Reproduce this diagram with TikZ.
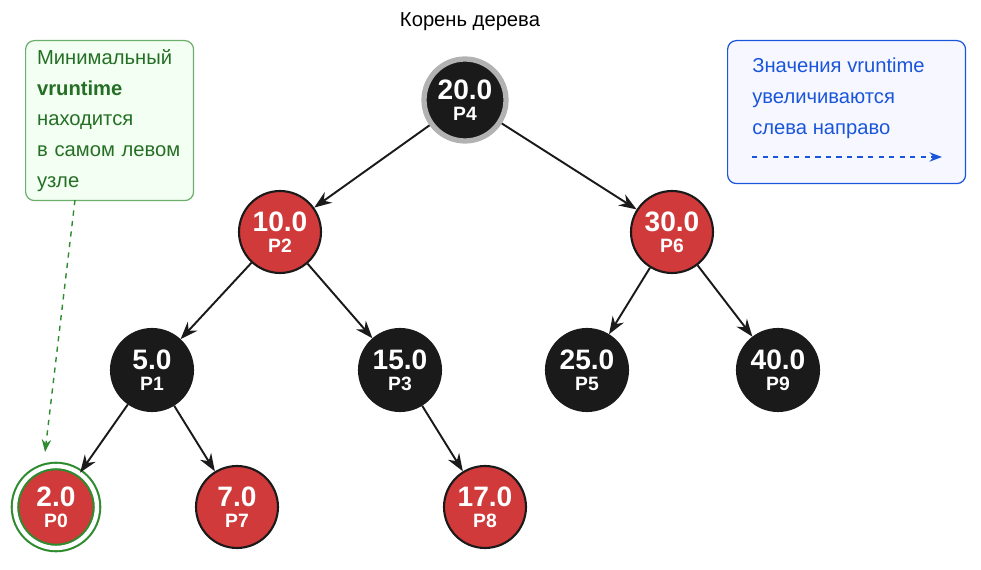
\documentclass[tikz,border=0pt]{standalone}
\usepackage{fontspec}
\setmainfont{Liberation Sans}
\usetikzlibrary{arrows.meta}
\definecolor{rbred}{HTML}{D03A3A}
\definecolor{rbblack}{HTML}{1A1A1A}
\definecolor{notegreen}{HTML}{2E8B2E}
\definecolor{noteblue}{HTML}{1A56DB}
\tikzset{
  rb/.style={circle, draw=rbblack, line width=1.2pt, minimum size=1.64cm, inner sep=0pt,
    text=white, align=center, font=\bfseries\fontsize{16}{13}\selectfont},
  red node/.style={rb, fill=rbred},
  black node/.style={rb, fill=rbblack},
  edge/.style={-{Stealth[length=3.5mm,width=2.6mm]}, line width=1.1pt, rbblack},
  note/.style={draw, rounded corners=5pt, line width=0.7pt}
}
\newcommand{\pid}[1]{\\[-1pt]{\fontsize{11}{11}\selectfont #1}}
\begin{document}
\begin{tikzpicture}[x=0.02cm, y=-0.02cm]
  \useasboundingbox (0,0) rectangle (981,570);

  % title of the root
  \node[font=\fontsize{11.5}{13}\selectfont] (title) at (470,22) {Корень дерева};

  % tree
  \node[black node, draw=gray!60, line width=3pt] (p4) at (465,100) {20.0\pid{P4}};
  \node[red node] (p2) at (280,232) {10.0\pid{P2}};
  \node[red node] (p6) at (672,232) {30.0\pid{P6}};
  \node[black node] (p1) at (152,370) {5.0\pid{P1}};
  \node[black node] (p3) at (400,370) {15.0\pid{P3}};
  \node[black node] (p5) at (587,370) {25.0\pid{P5}};
  \node[black node] (p9) at (778,370) {40.0\pid{P9}};
  \node[red node, double=white, double distance=2.5pt, draw=notegreen] (p0) at (56,507) {2.0\pid{P0}};
  \node[red node] (p7) at (237,507) {7.0\pid{P7}};
  \node[red node] (p8) at (485,507) {17.0\pid{P8}};

  \draw[edge] (p4) -- (p2);
  \draw[edge] (p4) -- (p6);
  \draw[edge] (p2) -- (p1);
  \draw[edge] (p2) -- (p3);
  \draw[edge] (p6) -- (p5);
  \draw[edge] (p6) -- (p9);
  \draw[edge] (p1) -- (p0);
  \draw[edge] (p1) -- (p7);
  \draw[edge] (p3) -- (p8);

  % notes
  \node[note, draw=notegreen!70, fill=green!5, minimum width=3.36cm, minimum height=3.2cm,
    anchor=north west, text=notegreen!80!black, align=left, text width=2.9cm, inner sep=0pt,
    font=\fontsize{11.5}{17.5}\selectfont] (minnote) at (25,40)
    {Минимальный\\\textbf{vruntime}\\находится\\в самом левом\\узле};
  \coordinate (minfrom) at (75,200);
  \draw[notegreen, dashed, line width=0.8pt, -{Stealth[length=2.5mm]}] (minfrom) -- (45,452);

  \node[note, draw=noteblue, fill=blue!3, minimum width=4.76cm, minimum height=2.86cm,
    anchor=north west] (dirnote) at (727,40) {};
  \node[text=noteblue, align=left, anchor=north west, inner sep=0pt,
    font=\fontsize{11.5}{17.5}\selectfont] (dirtext) at (752,58)
    {Значения vruntime\\увеличиваются\\слева направо};
  \coordinate (dirfrom) at (752,157);
  \coordinate (dirto) at (942,157);
  \draw[noteblue, dashed, line width=0.8pt, -{Stealth[length=2.5mm]}] (dirfrom) -- (dirto);
\end{tikzpicture}
\end{document}
